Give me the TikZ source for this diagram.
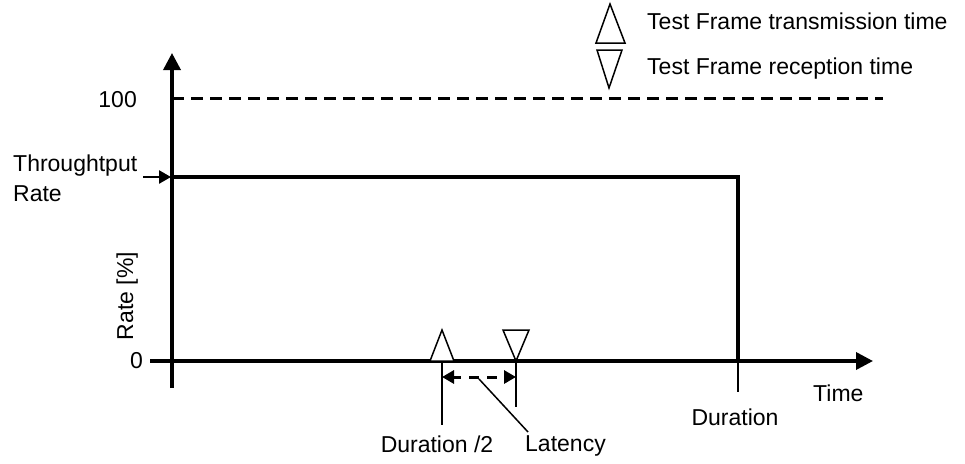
\documentclass[tikz,border=0pt]{standalone}
\usepackage{fontspec}
\setmainfont{Liberation Sans}
\usetikzlibrary{arrows.meta}
\begin{document}
\begin{tikzpicture}[x=1pt,y=-1pt,
  txt/.style={inner sep=0pt, font=\fontsize{23}{27}\selectfont},
  axisline/.style={line width=3.5pt, -{Triangle[length=17pt,width=17pt]}},
  thickline/.style={line width=3.5pt},
  thinline/.style={line width=1.5pt},
  tri/.style={line width=1.5pt, fill=white, line join=miter}]
\useasboundingbox (0,0) rectangle (965,463);
% coordinates
\coordinate (ybot) at (172,388);
\coordinate (ytop) at (172,53);
\coordinate (xleft) at (150,361);
\coordinate (xright) at (873,361);
\coordinate (h100a) at (172,98);
\coordinate (h100b) at (883,98);
\coordinate (tpa) at (172,177);
\coordinate (tpb) at (738,177);
\coordinate (tpc) at (738,361);
\coordinate (tpd) at (738,392);
\coordinate (arrA) at (143,177);
\coordinate (arrB) at (171,177);
\coordinate (txA) at (442,361);
\coordinate (txB) at (442,425);
\coordinate (rxA) at (516,361);
\coordinate (rxB) at (516,407);
\coordinate (latA) at (442,377);
\coordinate (latB) at (516,377);
\coordinate (leadA) at (479,379);
\coordinate (leadB) at (528,432);
% axes
\draw[axisline] (ybot) -- (ytop);
\draw[axisline] (xleft) -- (xright);
% 100 line
\draw[line width=3pt, dash pattern=on 12pt off 7pt] (h100a) -- (h100b);
% throughput
\draw[thickline, line join=miter] (tpa) -- (tpb) -- (tpc);
\draw[thinline] (tpc) -- (tpd);
\draw[line width=2.5pt, -{Triangle[length=12pt,width=13pt]}] (arrA) -- (arrB);
% markers
\draw[thinline] (txA) -- (txB);
\draw[thinline] (rxA) -- (rxB);
\draw[tri] (430,361) -- (442,330) -- (454,361) -- cycle;
\draw[tri] (503,330) -- (529,330) -- (516,361) -- cycle;
\draw[line width=3pt, dash pattern=on 10pt off 8pt, dash phase=2pt,
  {Triangle[length=12pt,width=13pt]}-{Triangle[length=12pt,width=13pt]}] (latA) -- (latB);
\draw[thinline] (leadA) -- (leadB);
% legend
\draw[tri] (596,43) -- (610,4) -- (625,43) -- cycle;
\draw[tri] (597,50) -- (622,50) -- (609,88) -- cycle;
\node[txt, anchor=base west] (lgtx) at (647,29) {Test Frame transmission time};
\node[txt, anchor=base west] (lgrx) at (647,74) {Test Frame reception time};
% labels
\node[txt, anchor=east] (l100) at (137,100) {100};
\node[txt, anchor=east] (l0) at (143,361) {0};
\node[txt, anchor=base west] (ltp1) at (13,171) {Throughtput};
\node[txt, anchor=base west] (ltp2) at (13,201) {Rate};
\node[txt, anchor=base, rotate=90] (lrate) at (133,296) {Rate [\%]};
\node[txt, anchor=base] (ldur2) at (437,452) {Duration /2};
\node[txt, anchor=base west] (llat) at (525,451) {Latency};
\node[txt, anchor=base] (ldur) at (735,425) {Duration};
\node[txt, anchor=base west] (ltime) at (813,401) {Time};
\end{tikzpicture}
\end{document}
